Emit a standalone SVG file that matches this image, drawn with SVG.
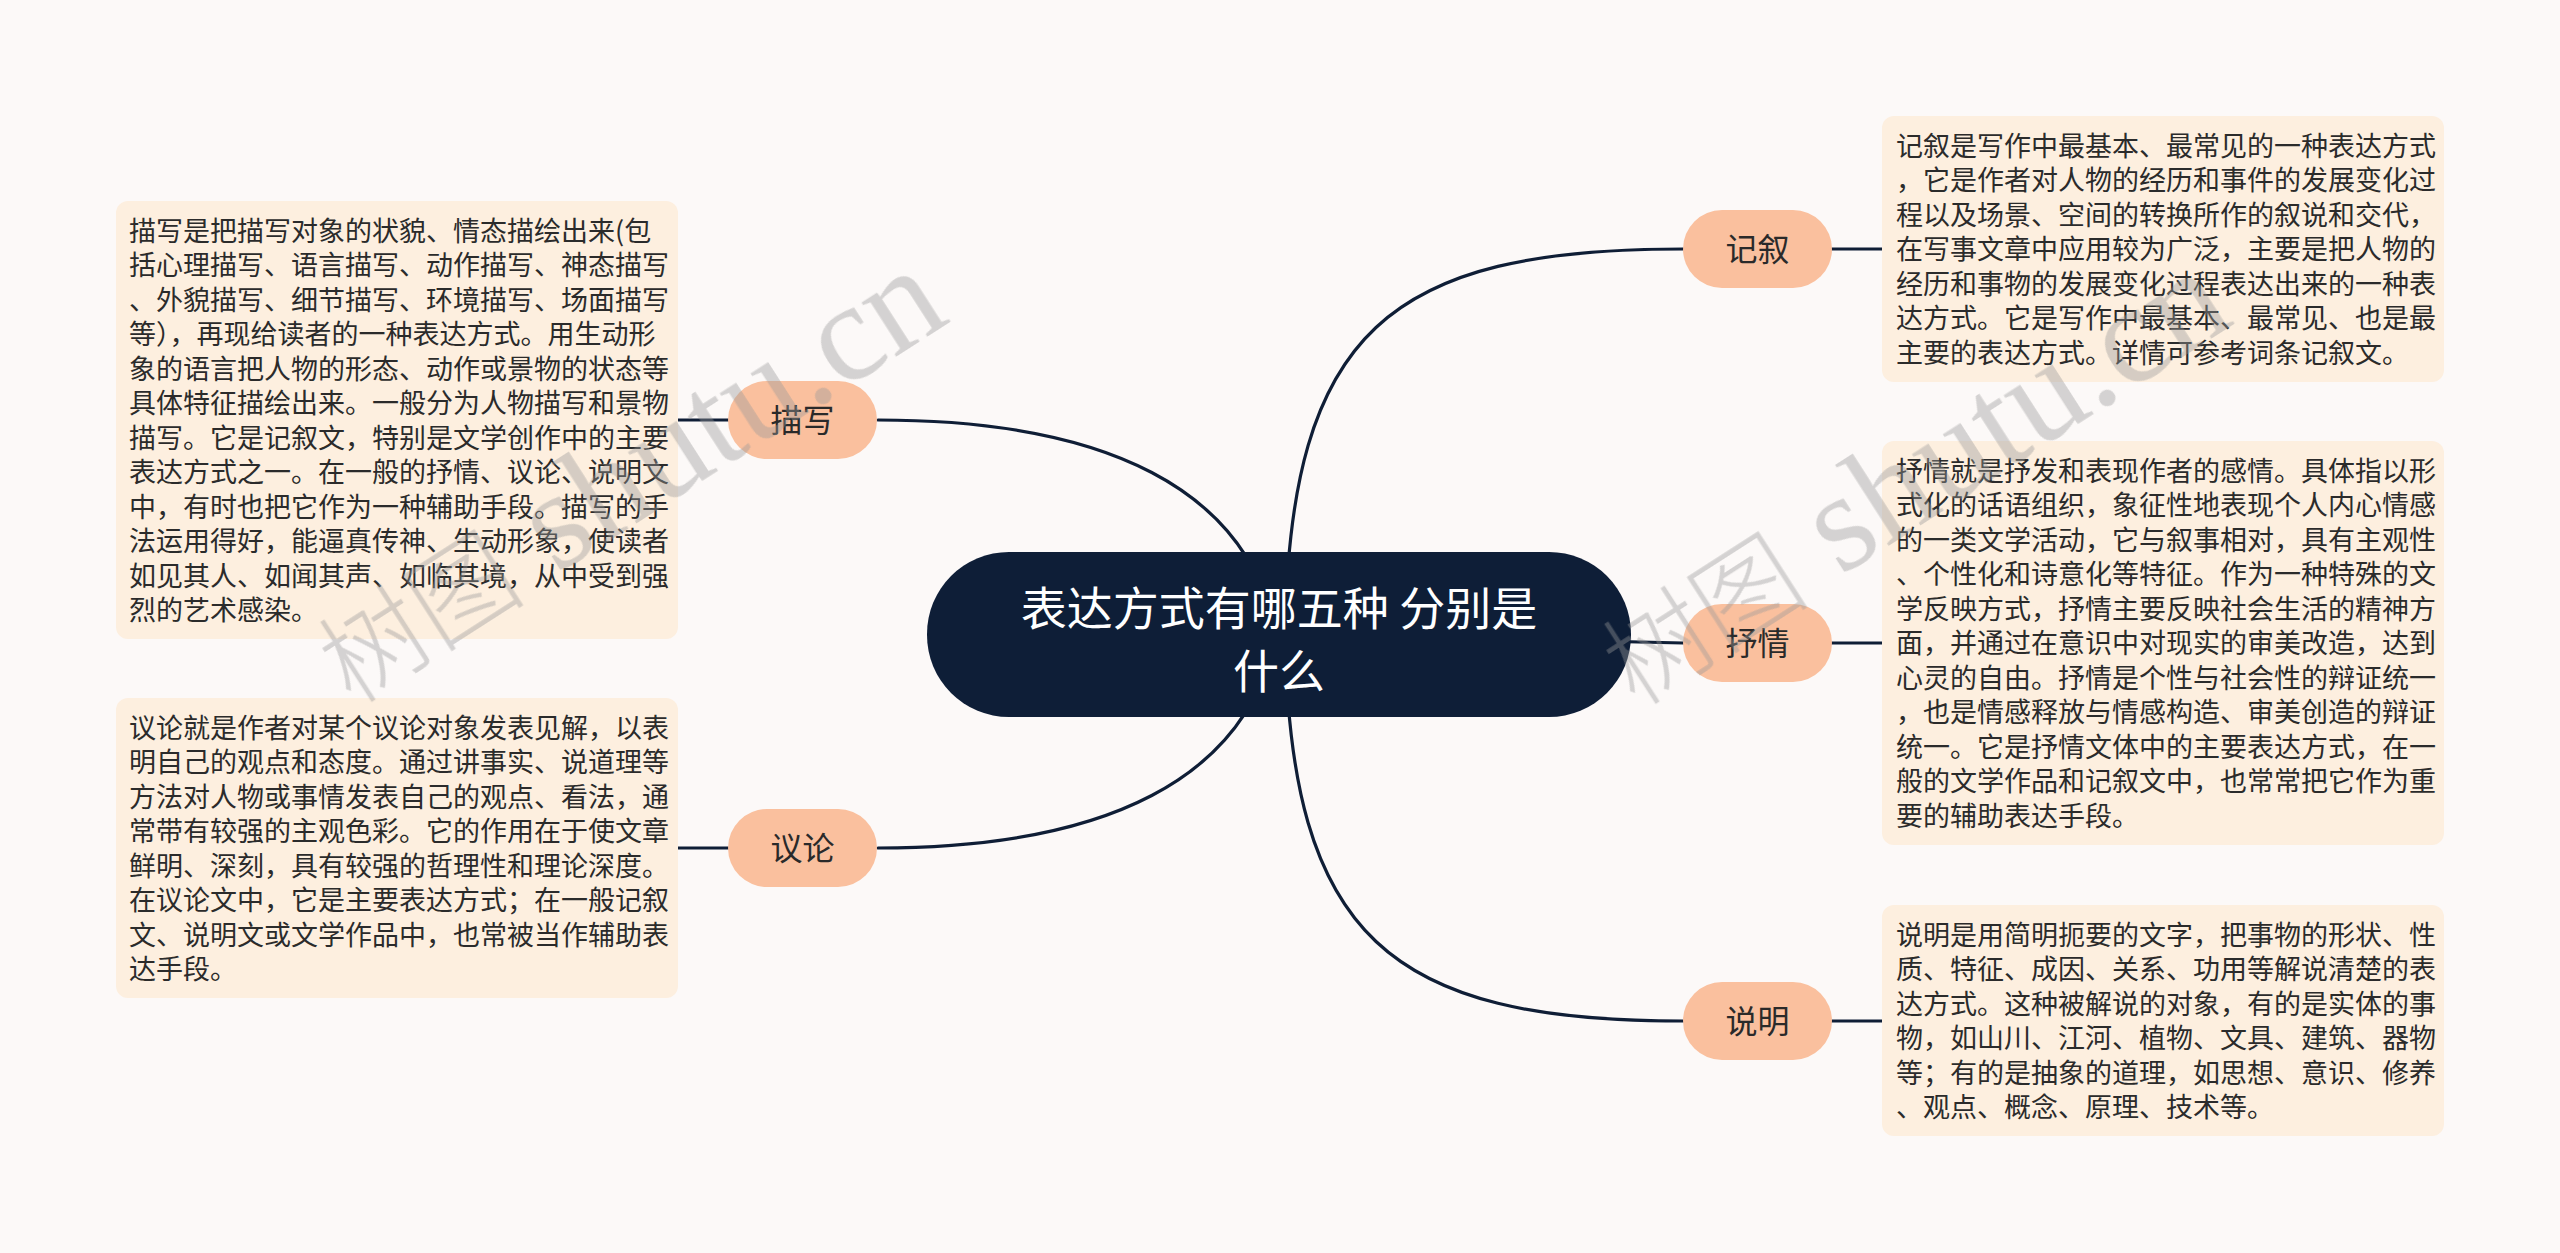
<svg xmlns="http://www.w3.org/2000/svg" width="2560" height="1253" viewBox="0 0 2560 1253">
<style>
.bg{fill:#FCF9F8}
.conn{fill:none;stroke:#0F1E36;stroke-width:3.2;stroke-linecap:round}
.root{fill:#0E1E37}
.roottxt{font-family:"Noto Sans CJK SC","Noto Sans",sans-serif;font-size:46px;fill:#FFFFFF;text-anchor:middle}
.br{fill:#FAC09E}
.brtxt{font-family:"Noto Sans CJK SC","Noto Sans",sans-serif;font-size:32px;fill:#2A2A2A;text-anchor:middle}
.box{fill:#FDEFDF}
.boxtxt{font-family:"Noto Sans CJK SC","Noto Sans",sans-serif;font-size:27px;fill:#2B2B2B}
.wm{fill:#9A9A9A;opacity:0.4}
.wmc{font-family:"Noto Sans CJK SC",sans-serif;font-size:104px;font-weight:300}
.wml{font-family:"Liberation Serif",serif;font-size:140px}
</style>
<rect class="bg" x="0" y="0" width="2560" height="1253"/>

<g id="connectors">
  <path class="conn" d="M 1285 634 C 1290 330, 1390 249, 1683 249"/>
  <path class="conn" d="M 1279 634 L 1683 643"/>
  <path class="conn" d="M 1285 634 C 1290 938, 1390 1021, 1683 1021"/>
  <path class="conn" d="M 1280 660 C 1262 480, 1090 420, 878 420"/>
  <path class="conn" d="M 1280 608 C 1262 788, 1090 848, 878 848"/>
  <path class="conn" d="M 1832 249 L 1882 249"/>
  <path class="conn" d="M 1832 643 L 1882 643"/>
  <path class="conn" d="M 1832 1021 L 1882 1021"/>
  <path class="conn" d="M 678 420 L 728 420"/>
  <path class="conn" d="M 678 848 L 728 848"/>
</g>

<g id="root">
  <rect class="root" x="927" y="552" width="704" height="165" rx="82" ry="82"/>
  <text class="roottxt" x="1279" y="625">表达方式有哪五种 分别是</text>
  <text class="roottxt" x="1279" y="688">什么</text>
</g>

<g id="node-jixu">
  <rect class="br" x="1683" y="210" width="149" height="78" rx="39" ry="39"/>
  <text class="brtxt" x="1757.5" y="261">记叙</text>
</g>
<g id="node-shuqing">
  <rect class="br" x="1683" y="604" width="149" height="78" rx="39" ry="39"/>
  <text class="brtxt" x="1757.5" y="655">抒情</text>
</g>
<g id="node-shuoming">
  <rect class="br" x="1683" y="982" width="149" height="78" rx="39" ry="39"/>
  <text class="brtxt" x="1757.5" y="1033">说明</text>
</g>
<g id="node-miaoxie">
  <rect class="br" x="728" y="381" width="149" height="78" rx="39" ry="39"/>
  <text class="brtxt" x="802.5" y="432">描写</text>
</g>
<g id="node-yilun">
  <rect class="br" x="728" y="809" width="149" height="78" rx="39" ry="39"/>
  <text class="brtxt" x="802.5" y="860">议论</text>
</g>

<g id="note-jixu">
  <rect class="box" x="1882" y="116" width="562" height="266" rx="12" ry="12"/>
  <text class="boxtxt" x="1896" y="155.5">
    <tspan x="1896" dy="0">记叙是写作中最基本、最常见的一种表达方式</tspan>
    <tspan x="1896" dy="34.5">，它是作者对人物的经历和事件的发展变化过</tspan>
    <tspan x="1896" dy="34.5">程以及场景、空间的转换所作的叙说和交代，</tspan>
    <tspan x="1896" dy="34.5">在写事文章中应用较为广泛，主要是把人物的</tspan>
    <tspan x="1896" dy="34.5">经历和事物的发展变化过程表达出来的一种表</tspan>
    <tspan x="1896" dy="34.5">达方式。它是写作中最基本、最常见、也是最</tspan>
    <tspan x="1896" dy="34.5">主要的表达方式。详情可参考词条记叙文。</tspan>
  </text>
</g>

<g id="note-shuqing">
  <rect class="box" x="1882" y="441" width="562" height="404" rx="12" ry="12"/>
  <text class="boxtxt" x="1896" y="480.5">
    <tspan x="1896" dy="0">抒情就是抒发和表现作者的感情。具体指以形</tspan>
    <tspan x="1896" dy="34.5">式化的话语组织，象征性地表现个人内心情感</tspan>
    <tspan x="1896" dy="34.5">的一类文学活动，它与叙事相对，具有主观性</tspan>
    <tspan x="1896" dy="34.5">、个性化和诗意化等特征。作为一种特殊的文</tspan>
    <tspan x="1896" dy="34.5">学反映方式，抒情主要反映社会生活的精神方</tspan>
    <tspan x="1896" dy="34.5">面，并通过在意识中对现实的审美改造，达到</tspan>
    <tspan x="1896" dy="34.5">心灵的自由。抒情是个性与社会性的辩证统一</tspan>
    <tspan x="1896" dy="34.5">，也是情感释放与情感构造、审美创造的辩证</tspan>
    <tspan x="1896" dy="34.5">统一。它是抒情文体中的主要表达方式，在一</tspan>
    <tspan x="1896" dy="34.5">般的文学作品和记叙文中，也常常把它作为重</tspan>
    <tspan x="1896" dy="34.5">要的辅助表达手段。</tspan>
  </text>
</g>

<g id="note-shuoming">
  <rect class="box" x="1882" y="905" width="562" height="231" rx="12" ry="12"/>
  <text class="boxtxt" x="1896" y="944.5">
    <tspan x="1896" dy="0">说明是用简明扼要的文字，把事物的形状、性</tspan>
    <tspan x="1896" dy="34.5">质、特征、成因、关系、功用等解说清楚的表</tspan>
    <tspan x="1896" dy="34.5">达方式。这种被解说的对象，有的是实体的事</tspan>
    <tspan x="1896" dy="34.5">物，如山川、江河、植物、文具、建筑、器物</tspan>
    <tspan x="1896" dy="34.5">等；有的是抽象的道理，如思想、意识、修养</tspan>
    <tspan x="1896" dy="34.5">、观点、概念、原理、技术等。</tspan>
  </text>
</g>

<g id="note-miaoxie">
  <rect class="box" x="116" y="201" width="562" height="438" rx="12" ry="12"/>
  <text class="boxtxt" x="129" y="240.5">
    <tspan x="129" dy="0">描写是把描写对象的状貌、情态描绘出来(包</tspan>
    <tspan x="129" dy="34.5">括心理描写、语言描写、动作描写、神态描写</tspan>
    <tspan x="129" dy="34.5">、外貌描写、细节描写、环境描写、场面描写</tspan>
    <tspan x="129" dy="34.5">等），再现给读者的一种表达方式。用生动形</tspan>
    <tspan x="129" dy="34.5">象的语言把人物的形态、动作或景物的状态等</tspan>
    <tspan x="129" dy="34.5">具体特征描绘出来。一般分为人物描写和景物</tspan>
    <tspan x="129" dy="34.5">描写。它是记叙文，特别是文学创作中的主要</tspan>
    <tspan x="129" dy="34.5">表达方式之一。在一般的抒情、议论、说明文</tspan>
    <tspan x="129" dy="34.5">中，有时也把它作为一种辅助手段。描写的手</tspan>
    <tspan x="129" dy="34.5">法运用得好，能逼真传神、生动形象，使读者</tspan>
    <tspan x="129" dy="34.5">如见其人、如闻其声、如临其境，从中受到强</tspan>
    <tspan x="129" dy="34.5">烈的艺术感染。</tspan>
  </text>
</g>

<g id="note-yilun">
  <rect class="box" x="116" y="698" width="562" height="300" rx="12" ry="12"/>
  <text class="boxtxt" x="129" y="737.5">
    <tspan x="129" dy="0">议论就是作者对某个议论对象发表见解，以表</tspan>
    <tspan x="129" dy="34.5">明自己的观点和态度。通过讲事实、说道理等</tspan>
    <tspan x="129" dy="34.5">方法对人物或事情发表自己的观点、看法，通</tspan>
    <tspan x="129" dy="34.5">常带有较强的主观色彩。它的作用在于使文章</tspan>
    <tspan x="129" dy="34.5">鲜明、深刻，具有较强的哲理性和理论深度。</tspan>
    <tspan x="129" dy="34.5">在议论文中，它是主要表达方式；在一般记叙</tspan>
    <tspan x="129" dy="34.5">文、说明文或文学作品中，也常被当作辅助表</tspan>
    <tspan x="129" dy="34.5">达手段。</tspan>
  </text>
</g>

<g id="watermarks" class="wm">
  <text transform="translate(352 706) rotate(-32.7)"><tspan class="wmc">树图</tspan><tspan class="wml"> shutu.cn</tspan></text>
  <text transform="translate(1636 708) rotate(-32.7)"><tspan class="wmc">树图</tspan><tspan class="wml"> shutu.cn</tspan></text>
</g>
</svg>
